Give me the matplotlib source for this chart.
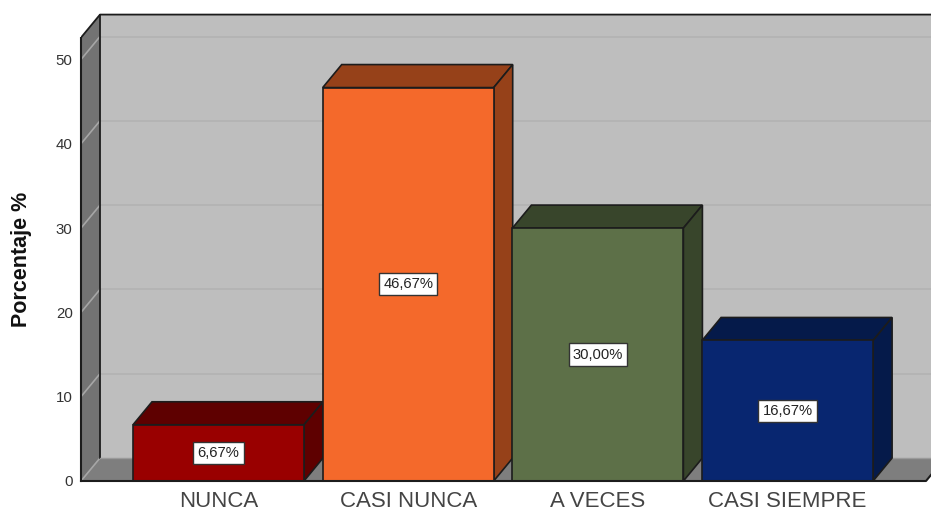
import matplotlib
matplotlib.use('Agg')
import matplotlib.pyplot as plt

plt.rcParams['font.family'] = ['Liberation Sans', 'DejaVu Sans']

categories = ['NUNCA', 'CASI NUNCA', 'A VECES', 'CASI SIEMPRE']
values = [6.67, 46.67, 30.00, 16.67]
labels = ['6,67%', '46,67%', '30,00%', '16,67%']
front_colors = ['#990000', '#F4692B', '#5D7048', '#082670']
dark_colors = ['#5E0000', '#964119', '#38452B', '#051A4A']
yticks = [0, 10, 20, 30, 40, 50]

W, H = 931, 513
LEFT, BASE = 81, 481
PX_X = 189.7
PX_Y = 8.43
DX = 19 / PX_X
DY = 23 / PX_Y
BAR_W = 171 / PX_X
EDGE = '#1c1c1c'

fig = plt.figure(figsize=(W / 100, H / 100), dpi=100)
ax = fig.add_axes([LEFT / W, (H - BASE) / H, (W - LEFT) / W, BASE / H])
xmin = (LEFT - 218.5) / PX_X
xmax = (W - 218.5) / PX_X
ax.set_xlim(xmin, xmax)
ax.set_ylim(0, BASE / PX_Y)
for s in ax.spines.values():
    s.set_visible(False)

ytop = 52.6
xend = (926 - 218.5) / PX_X

# back wall, side wall, floor
ax.fill([xmin + DX, xend + DX, xend + DX, xmin + DX], [DY, DY, ytop + DY, ytop + DY],
        fc='#BEBEBE', ec='none', zorder=1)
ax.fill([xmin, xmin + DX, xmin + DX, xmin], [0, DY, ytop + DY, ytop],
        fc='#737373', ec='none', zorder=1)
ax.fill([xmin, xend, xend + DX, xmin + DX], [0, 0, DY, DY],
        fc='#7E7E7E', ec='none', zorder=1)

# grid
for v in yticks:
    if v > 0:
        ax.plot([xmin + DX, xend + DX], [v + DY, v + DY], color='#B2B2B2', lw=1.2, zorder=2)
    ax.plot([xmin, xmin + DX], [v, v + DY], color='#A6A6A6', lw=1.2, zorder=2)

# frame
ax.plot([xmin, xmin], [0, ytop], color=EDGE, lw=1.5, zorder=3, clip_on=False)
ax.plot([xmin, xmin + DX, xend + DX], [ytop, ytop + DY, ytop + DY], color=EDGE, lw=1.3, zorder=3)
ax.plot([xmin + DX, xmin + DX], [DY, ytop + DY], color=EDGE, lw=1.3, zorder=3)
ax.plot([xmin + DX, xend + DX], [DY, DY], color='#9A9A9A', lw=1, zorder=3)

# bars
for i, v in enumerate(values):
    x0 = i - BAR_W / 2
    x1 = i + BAR_W / 2
    ax.fill([x0, x1, x1 + DX, x0 + DX], [v, v, v + DY, v + DY],
            fc=dark_colors[i], ec=EDGE, lw=1.2, zorder=4)
    ax.fill([x1, x1 + DX, x1 + DX, x1], [0, DY, v + DY, v],
            fc=dark_colors[i], ec=EDGE, lw=1.2, zorder=4)
    ax.bar(i, v, width=BAR_W, color=front_colors[i], edgecolor=EDGE, lw=1.2, zorder=5)
    ax.text(i, v / 2, labels[i], ha='center', va='center', fontsize=10.6, color='#222222', zorder=6,
            bbox=dict(boxstyle='square,pad=0.28', fc='white', ec='#333333', lw=1))

ax.plot([xmin, xend, xend + DX], [0, 0, DY], color=EDGE, lw=1.5, zorder=7, clip_on=False)

ax.set_xticks(range(len(categories)))
ax.set_xticklabels(categories, fontsize=16, color='#444444')
ax.set_yticks(yticks)
ax.set_yticklabels(yticks, fontsize=10.8, color='#333333')
ax.tick_params(axis='x', length=0, pad=7)
ax.tick_params(axis='y', length=0, pad=6)
fig.text(22 / W, 1 - 259 / H, 'Porcentaje %', rotation=90, ha='center', va='center',
         fontsize=15.5, fontweight='bold', color='#111111')

fig.savefig('out.png', dpi=100)
